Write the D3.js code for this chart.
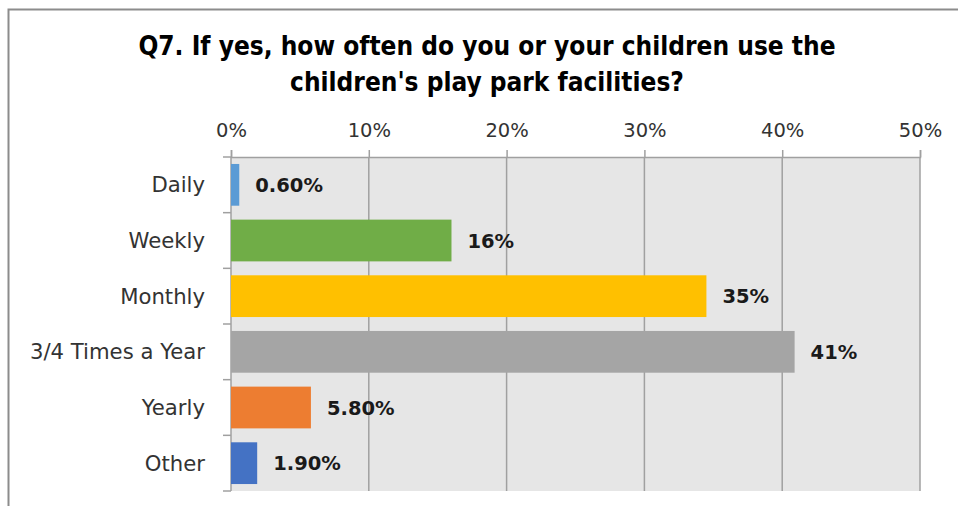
<!DOCTYPE html>
<html>
<head>
<meta charset="utf-8">
<script src="https://cdn.jsdelivr.net/npm/d3@7"></script>
<style>
  html, body { margin: 0; padding: 0; background: #fff; }
  svg { display: block; }
</style>
</head>
<body>
<svg id="chart" width="958" height="506"></svg>
<script>
const titleLines = ["Q7. If yes, how often do you or your children use the", "children's play park facilities?"];
const categories = ["Daily", "Weekly", "Monthly", "3/4 Times a Year", "Yearly", "Other"];
const values = [0.6, 16.0, 34.5, 40.9, 5.8, 1.9];
const valueLabels = ["0.60%", "16%", "35%", "41%", "5.80%", "1.90%"];
const colors = ["#5B9BD5", "#70AD47", "#FFC000", "#A5A5A5", "#ED7D31", "#4472C4"];
const tickValues = [0, 10, 20, 30, 40, 50];

const svg = d3.select("#chart");
const W = 958, H = 506;
const plot = { left: 231, right: 920, top: 157, bottom: 491 };

// outer border
svg.append("rect").attr("x", 8.5).attr("y", 9.5).attr("width", W + 20).attr("height", H + 20)
  .attr("fill", "#fff").attr("stroke", "#8c8c8c").attr("stroke-width", 2);

// title
const title = svg.append("text").attr("text-anchor", "middle")
  .attr("font-family", "'Liberation Sans Narrow', 'DejaVu Sans Condensed', 'Liberation Sans', Arial, sans-serif")
  .attr("font-weight", "bold").attr("font-size", 26).attr("fill", "#000");
titleLines.forEach((t, i) => {
  title.append("tspan").attr("x", 487).attr("y", 55 + i * 36).text(t);
});

const x = d3.scaleLinear().domain([0, 50]).range([plot.left, plot.right]);
const y = d3.scaleBand().domain(categories).range([plot.top, plot.bottom])
  .paddingInner(0.25).paddingOuter(0.125);

// plot background
svg.append("rect").attr("x", plot.left).attr("y", plot.top)
  .attr("width", plot.right - plot.left).attr("height", plot.bottom - plot.top)
  .attr("fill", "#E6E6E6");

// vertical gridlines
svg.append("g").selectAll("line").data(tickValues.slice(1)).join("line")
  .attr("x1", d => x(d)).attr("x2", d => x(d))
  .attr("y1", plot.top).attr("y2", plot.bottom)
  .attr("stroke", "#A0A0A0").attr("stroke-width", 1.5);

// top axis
const xAxis = d3.axisTop(x).tickValues(tickValues).tickFormat(d => d + "%").tickSize(7).tickPadding(13);
const gx = svg.append("g").attr("transform", `translate(0,${plot.top})`).call(xAxis);
gx.select(".domain").attr("stroke", "#A0A0A0").attr("stroke-width", 1.5);
gx.selectAll(".tick line").attr("stroke", "#A0A0A0").attr("stroke-width", 1.5);
gx.selectAll(".tick text").attr("font-family", "'DejaVu Sans', Verdana, sans-serif")
  .attr("font-size", 19.5).attr("fill", "#333");

// left axis line and boundary ticks
const step = y.step();
const boundaries = categories.map(c => y(c) - step * y.paddingInner() / 2)
  .concat([y(categories[categories.length - 1]) + y.bandwidth() + step * y.paddingInner() / 2]);
svg.append("line").attr("x1", plot.left).attr("x2", plot.left)
  .attr("y1", plot.top).attr("y2", plot.bottom)
  .attr("stroke", "#A0A0A0").attr("stroke-width", 1.5);
svg.append("g").selectAll("line").data(boundaries).join("line")
  .attr("x1", plot.left - 8).attr("x2", plot.left)
  .attr("y1", d => d).attr("y2", d => d)
  .attr("stroke", "#A0A0A0").attr("stroke-width", 1.5);

// category labels
svg.append("g").selectAll("text").data(categories).join("text")
  .attr("x", plot.left - 26).attr("y", d => y(d) + y.bandwidth() / 2)
  .attr("dy", "0.36em").attr("text-anchor", "end")
  .attr("font-family", "'DejaVu Sans', Verdana, sans-serif").attr("font-size", 21.2)
  .attr("fill", "#333").text(d => d);

// bars
svg.append("g").selectAll("rect").data(categories).join("rect")
  .attr("x", x(0)).attr("y", d => y(d))
  .attr("width", (d, i) => x(values[i]) - x(0)).attr("height", y.bandwidth())
  .attr("fill", (d, i) => colors[i]);

// value labels
svg.append("g").selectAll("text").data(categories).join("text")
  .attr("x", (d, i) => x(values[i]) + 16).attr("y", d => y(d) + y.bandwidth() / 2)
  .attr("dy", "0.36em")
  .attr("font-family", "'DejaVu Sans', Verdana, sans-serif").attr("font-weight", "bold")
  .attr("font-size", 19.5).attr("fill", "#1a1a1a").text((d, i) => valueLabels[i]);
</script>
</body>
</html>
